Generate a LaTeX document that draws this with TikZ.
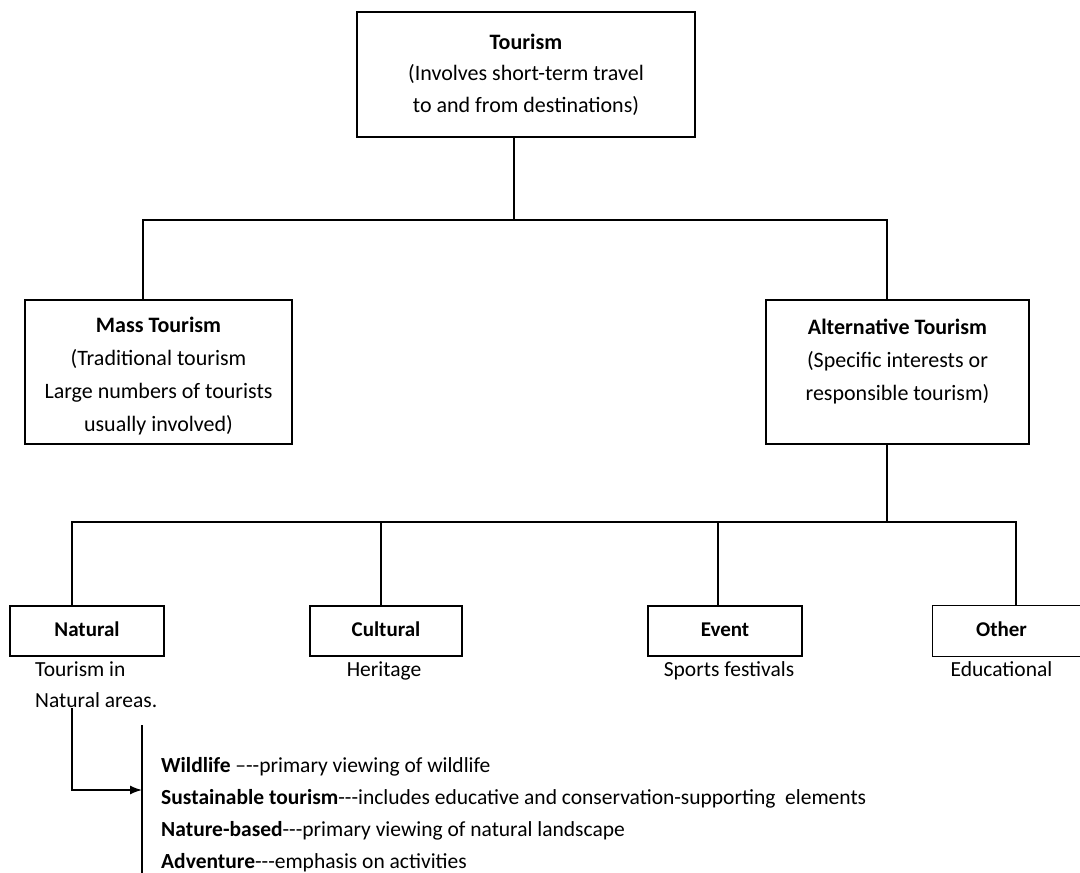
\documentclass[tikz,border=0pt]{standalone}
\usepackage{fontspec}
\setmainfont{Carlito}
\usetikzlibrary{arrows.meta,positioning}

\tikzset{
  box/.style={draw, line width=1.4pt, align=center, inner sep=0pt,
    font=\fontsize{22}{33}\selectfont},
  catbox/.style={box, minimum height=50pt, text height=14pt, text depth=3pt,
    font=\fontsize{21}{30}\selectfont\bfseries},
  desc/.style={align=left, inner sep=0pt, font=\fontsize{21.5}{32}\selectfont},
  link/.style={line width=1.4pt},
}

\begin{document}
\begin{tikzpicture}[x=1pt,y=-1pt]
\useasboundingbox (0,0) rectangle (1080,873);
\fill[white] (0,0) rectangle (1080,873);

% Top level
\node[box, minimum width=338pt, minimum height=125pt, font=\fontsize{22}{31.5}\selectfont] (tourism) at (526,74.5)
  {\textbf{Tourism}\\(Involves short-term travel\\to and from destinations)};

% Second level
\node[box, minimum width=267pt, minimum height=144pt, text height=122pt, text depth=4pt] (mass) at (158.5,372)
  {\textbf{Mass Tourism}\\(Traditional tourism\\Large numbers of tourists\\usually involved)};
\node[box, minimum width=263pt, minimum height=144pt, text depth=25pt] (alt) at (897.5,372)
  {\textbf{Alternative Tourism}\\(Specific interests or\\responsible tourism)};

\coordinate (top-bus) at (514,220);
\draw[link] ([xshift=-12pt]tourism.south) -- (top-bus);
\draw[link] ([xshift=-15.5pt]mass.north) |- (top-bus) -| ([xshift=-10.5pt]alt.north);

% Third level
\node[catbox, minimum width=154pt] (natural) at (87,631) {Natural};
\node[catbox, minimum width=152pt] (cultural) at (386,631) {Cultural};
\node[catbox, minimum width=154pt] (event) at (725,631) {Event};
\node[catbox, draw=none, minimum width=147pt] (other) at (1006.5,631) {Other\hspace{10pt}};
\draw[link] (other.north east) -- (other.north west) -- (other.south west) -- (other.south east);

\coordinate (low-bus) at (887,522);
\draw[link] ([xshift=-10.5pt]alt.south) -- (low-bus);
\draw[link] ([xshift=-15pt]natural.north) |- (low-bus) -| ([xshift=9.5pt]other.north);
\draw[link] ([xshift=-5pt]cultural.north) -- ([xshift=-5pt]cultural.north |- low-bus);
\draw[link] ([xshift=-7pt]event.north) -- ([xshift=-7pt]event.north |- low-bus);

% descriptions
\node[desc, anchor=north west] (natdesc) at (35,661) {Tourism in\\Natural areas.};
\node[desc, below=5pt of cultural, xshift=-2pt] (culdesc) {Heritage};
\node[desc, below=5pt of event, xshift=4pt] (evdesc) {Sports festivals};
\node[desc, below=5pt of other, xshift=-5pt] (othdesc) {Educational};

% kinds of natural tourism
\coordinate (natstem) at (72,708);
\coordinate (bartop) at (142,725);
\coordinate (barhit) at (142,790);
\coordinate (barbot) at (142,873);
\draw[link] (bartop) -- (barbot);
\draw[link, -{Latex[length=12pt,width=9pt]}] (natstem) |- (barhit);

\node[desc, anchor=north west, font=\fontsize{21.5}{32}\selectfont] (kinds) at (161,757)
  {\textbf{Wildlife} --{}-{}-primary viewing of wildlife\\
   \textbf{Sustainable tourism}-{}-{}-includes educative and conservation-supporting\ \ elements\\
   \textbf{Nature-based}-{}-{}-primary viewing of natural landscape\\
   \textbf{Adventure}-{}-{}-emphasis on activities};
\end{tikzpicture}
\end{document}
